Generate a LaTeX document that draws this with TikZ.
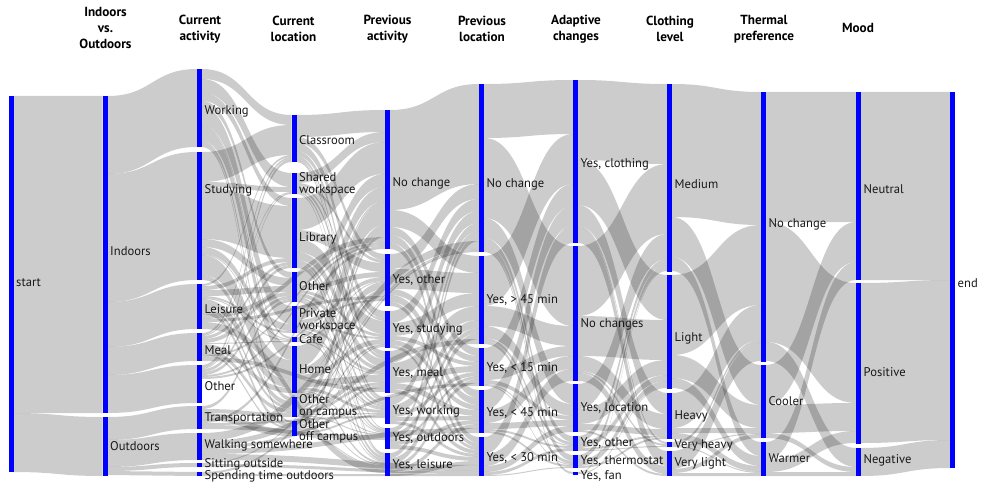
\documentclass[tikz,border=0pt]{standalone}
\usepackage{fontspec}
\setmainfont{PT Sans}
\usetikzlibrary{calc,backgrounds}

\tikzset{
  skbar/.style={fill=blue,draw=none,inner sep=0pt,outer sep=0pt,minimum width=5pt},
  lbl/.style={anchor=west,inner sep=0.5pt,align=left,text=black!90,font=\fontsize{12.6}{11.6}\selectfont},
  hd/.style={align=center,font=\bfseries\fontsize{13.2}{16}\selectfont},
  band/.style={fill=black,fill opacity=0.2}
}

% bar node: name, x, top, bottom, label y, label
\newcommand\sknode[6]{%
  \node[skbar,minimum height={#4-#3}] (#1) at (#2,{(#3+#4)/2}) {};
  \node[lbl] (#1l) at (#2+4.5,#5) {#6};
  \expandafter\xdef\csname so#1\endcsname{0}%
  \expandafter\xdef\csname si#1\endcsname{0}%
}
% band: from node, to node, value
\newcommand\skflow[3]{%
  \edef\oa{\csname so#1\endcsname}\edef\ob{\csname si#2\endcsname}%
  \coordinate (fa) at ($(#1.north east)+(0,\oa)$);
  \coordinate (fb) at ($(#2.north west)+(0,\ob)$);
  \coordinate (fc) at ($(fb)+(0,#3)$);
  \coordinate (fd) at ($(fa)+(0,#3)$);
  \coordinate (fm) at ($(fa)!0.5!(fb)$);
  \fill[band] (fa) .. controls (fm|-fa) and (fm|-fb) .. (fb) -- (fc)
    .. controls (fm|-fc) and (fm|-fd) .. (fd) -- cycle;
  \pgfmathsetmacro\tmp{\oa+#3}\expandafter\xdef\csname so#1\endcsname{\tmp}%
  \pgfmathsetmacro\tmp{\ob+#3}\expandafter\xdef\csname si#2\endcsname{\tmp}%
}

\begin{document}
\begin{tikzpicture}[x=1pt,y=-1pt]
\useasboundingbox (0,0) rectangle (988,484);
%HEADERS
\node[hd] (hIO) at (105.5,28) {Indoors\\vs.\\Outdoors};
\node[hd] (hAct) at (200,29) {Current\\activity};
\node[hd] (hLoc) at (293.5,29) {Current\\location};
\node[hd] (hPAct) at (387.5,29) {Previous\\activity};
\node[hd] (hPLoc) at (482,29) {Previous\\location};
\node[hd] (hAdap) at (576,29) {Adaptive\\changes};
\node[hd] (hClo) at (670,29) {Clothing\\level};
\node[hd] (hTher) at (764,29) {Thermal\\preference};
\node[hd] (hMood) at (858,28) {Mood};
%START AND INDOORS VS. OUTDOORS
\sknode{st}{11}{96}{472}{283}{start}
\sknode{ind}{105}{96}{413}{251}{Indoors}
\sknode{outd}{105}{417}{476}{446}{Outdoors}
%CURRENT ACTIVITY
\sknode{wrk}{199.5}{69}{147}{111}{Working}
\sknode{stu}{199.5}{152}{280}{190}{Studying}
\sknode{lei}{199.5}{284}{329}{309}{Leisure}
\sknode{meal}{199.5}{333}{361}{350}{Meal}
\sknode{oact}{199.5}{365}{403}{386}{Other}
\sknode{trn}{199.5}{406}{429}{418}{Transportation}
\sknode{walk}{199.5}{433}{460}{445}{Walking somewhere}
\sknode{sit}{199.5}{463}{467}{464}{Sitting outside}
\sknode{spend}{199.5}{472}{476}{476.5}{Spending time outdoors}
%CURRENT LOCATION
\sknode{cls}{294}{115}{162}{140}{Classroom}
\sknode{shw}{294}{173}{194}{184}{Shared\\workspace}
\sknode{lib}{294}{198}{268}{238}{Library}
\sknode{oloc}{294}{272}{302}{286}{Other}
\sknode{prv}{294}{306}{333}{320}{Private\\workspace}
\sknode{cafe}{294}{337}{342}{339.5}{Cafe}
\sknode{home}{294}{346}{393}{369}{Home}
\sknode{ooc}{294}{397}{417}{406}{Other\\on campus}
\sknode{ofc}{294}{421}{436}{431}{Other\\off campus}
%PREVIOUS ACTIVITY
\sknode{pnc}{387.5}{110}{249}{183}{No change}
\sknode{poth}{387.5}{254}{306}{280}{Yes, other}
\sknode{pstu}{387.5}{311}{348}{329}{Yes, studying}
\sknode{pmeal}{387.5}{351}{393}{373}{Yes, meal}
\sknode{pwrk}{387.5}{397}{424}{411}{Yes, working}
\sknode{pout}{387.5}{428}{449}{438}{Yes, outdoors}
\sknode{plei}{387.5}{453}{476}{465}{Yes, leisure}
%PREVIOUS LOCATION
\sknode{lnc}{481.5}{84}{252}{184}{No change}
\sknode{lg45}{481.5}{256}{344}{300}{Yes, > 45 min}
\sknode{ll15}{481.5}{348}{386}{368}{Yes, < 15 min}
\sknode{ll45}{481.5}{390}{433}{413}{Yes, < 45 min}
\sknode{ll30}{481.5}{437}{476}{458}{Yes, < 30 min}
%ADAPTIVE CHANGES
\sknode{aclo}{575.5}{80}{243}{164}{Yes, clothing}
\sknode{anc}{575.5}{246}{381}{324}{No changes}
\sknode{aloc}{575.5}{384}{432}{408}{Yes, location}
\sknode{aoth}{575.5}{436}{451}{443}{Yes, other}
\sknode{athe}{575.5}{455}{468}{461.5}{Yes, thermostat}
\sknode{afan}{575.5}{472}{475}{475.5}{Yes, fan}
%CLOTHING LEVEL
\sknode{cmed}{669.5}{84}{272}{184}{Medium}
\sknode{clig}{669.5}{275}{389}{338}{Light}
\sknode{chea}{669.5}{393}{439}{416}{Heavy}
\sknode{cvh}{669.5}{442}{447}{445}{Very heavy}
\sknode{cvl}{669.5}{451}{476}{463}{Very light}
%THERMAL PREFERENCE
\sknode{tnc}{763.5}{92}{362}{224}{No change}
\sknode{tcoo}{763.5}{365}{438}{401}{Cooler}
\sknode{twar}{763.5}{442}{476}{458}{Warmer}
%MOOD AND END
\sknode{mneu}{858.5}{92}{280}{189}{Neutral}
\sknode{mpos}{858.5}{283}{444}{372}{Positive}
\sknode{mneg}{858.5}{448}{476}{460}{Negative}
\sknode{en}{952.5}{92}{468}{283}{end}
%FLOWS
\begin{scope}[on background layer]
\foreach \s/\d/\v in {st/ind/317, st/outd/59,
  ind/wrk/78, ind/stu/128, ind/lei/45, ind/meal/28, ind/oact/38,
  outd/trn/23, outd/walk/27, outd/sit/4, outd/spend/4,
  wrk/cls/10, wrk/shw/14, wrk/lib/8, wrk/oloc/6, wrk/prv/18, wrk/cafe/2, wrk/home/14, wrk/ooc/4, wrk/ofc/2,
  stu/cls/30, stu/shw/5, stu/lib/52, stu/oloc/8, stu/prv/7, stu/cafe/1, stu/home/20, stu/ooc/5,
  lei/cls/2, lei/lib/4, lei/oloc/6, lei/prv/2, lei/cafe/1, lei/home/8, lei/ooc/3, lei/ofc/4,
  meal/cls/2, meal/shw/1, meal/lib/3, meal/oloc/4, meal/cafe/1, meal/home/5, meal/ooc/4, meal/ofc/2,
  oact/cls/3, oact/shw/1, oact/lib/3, oact/oloc/3,
  trn/oloc/3, trn/ooc/4, trn/ofc/7}
  {\skflow{\s}{\d}{\v}}
%LOCATION TO PREVIOUS ACTIVITY
\foreach \s/\d/\v in {cls/pnc/22, cls/poth/6, cls/pstu/8, cls/pmeal/5, cls/pwrk/3, cls/pout/1, cls/plei/2,
  shw/pnc/10, shw/poth/3, shw/pstu/2, shw/pmeal/3, shw/pwrk/2, shw/plei/1,
  lib/pnc/32, lib/poth/9, lib/pstu/13, lib/pmeal/8, lib/pwrk/3, lib/pout/2, lib/plei/3,
  oloc/pnc/13, oloc/poth/5, oloc/pstu/3, oloc/pmeal/4, oloc/pwrk/2, oloc/pout/1, oloc/plei/2,
  prv/pnc/14, prv/poth/4, prv/pstu/2, prv/pmeal/3, prv/pwrk/2, prv/pout/1, prv/plei/1,
  cafe/pnc/2, cafe/poth/1, cafe/pmeal/1, cafe/pwrk/1,
  home/pnc/22, home/poth/7, home/pstu/5, home/pmeal/7, home/pwrk/3, home/pout/1, home/plei/2,
  ooc/pnc/8, ooc/poth/4, ooc/pstu/2, ooc/pmeal/3, ooc/pwrk/1, ooc/pout/1, ooc/plei/1,
  ofc/pnc/4, ofc/poth/3, ofc/pstu/1, ofc/pmeal/3, ofc/pwrk/2, ofc/pout/1, ofc/plei/1,
  lei/pnc/5, lei/poth/3, lei/plei/7, meal/pnc/2, meal/pmeal/4,
  oact/pnc/2, oact/poth/2, trn/pnc/3, trn/pwrk/2, trn/pout/4}
  {\skflow{\s}{\d}{\v}}
%PREVIOUS ACTIVITY TO PREVIOUS LOCATION
\foreach \s/\d/\v in {pnc/lnc/100, pnc/lg45/17, pnc/ll15/8, pnc/ll45/8, pnc/ll30/6,
  poth/lnc/15, poth/lg45/20, poth/ll15/6, poth/ll45/7, poth/ll30/4,
  pstu/lnc/12, pstu/lg45/13, pstu/ll15/4, pstu/ll45/5, pstu/ll30/3,
  pmeal/lnc/12, pmeal/lg45/14, pmeal/ll15/6, pmeal/ll45/6, pmeal/ll30/4,
  pwrk/lnc/8, pwrk/lg45/8, pwrk/ll15/4, pwrk/ll45/4, pwrk/ll30/3,
  pout/lnc/5, pout/lg45/5, pout/ll15/3, pout/ll45/4, pout/ll30/4,
  plei/lnc/5, plei/lg45/6, plei/ll15/4, plei/ll45/4, plei/ll30/4,
  walk/lnc/8, walk/lg45/5, walk/ll15/3, walk/ll45/5, walk/ll30/6,
  sit/lnc/1, sit/ll30/3, spend/lnc/2, spend/ll30/2}
  {\skflow{\s}{\d}{\v}}
%PREVIOUS LOCATION TO ADAPTIVE CHANGES
\foreach \s/\d/\v in {lnc/aclo/54, lnc/anc/80, lnc/aloc/20, lnc/aoth/6, lnc/athe/6, lnc/afan/2,
  lg45/aclo/50, lg45/anc/20, lg45/aloc/12, lg45/aoth/3, lg45/athe/3,
  ll15/aclo/22, ll15/anc/10, ll15/aloc/4, ll15/aoth/1, ll15/athe/1,
  ll45/aclo/20, ll45/anc/13, ll45/aloc/6, ll45/aoth/2, ll45/athe/2,
  ll30/aclo/17, ll30/anc/12, ll30/aloc/6, ll30/aoth/3, ll30/athe/1}
  {\skflow{\s}{\d}{\v}}
%ADAPTIVE CHANGES TO CLOTHING
\foreach \s/\d/\v in {aclo/cmed/80, aclo/clig/45, aclo/chea/21, aclo/cvh/2, aclo/cvl/15,
  anc/cmed/70, anc/clig/40, anc/chea/15, anc/cvh/2, anc/cvl/8,
  aloc/cmed/25, aloc/clig/15, aloc/chea/6, aloc/cvl/2,
  aoth/cmed/6, aoth/clig/6, aoth/chea/2, aoth/cvh/1,
  athe/cmed/5, athe/clig/6, athe/chea/2,
  afan/cmed/1, afan/clig/1}
  {\skflow{\s}{\d}{\v}}
%CLOTHING TO THERMAL PREFERENCE TO MOOD TO END
\foreach \s/\d/\v in {cmed/tnc/133, cmed/tcoo/40, cmed/twar/14,
  clig/tnc/80, clig/tcoo/23, clig/twar/10,
  chea/tnc/35, chea/tcoo/5, chea/twar/6,
  cvh/tnc/3, cvh/tcoo/1, cvh/twar/1,
  cvl/tnc/18, cvl/tcoo/4, cvl/twar/3,
  tnc/mneu/130, tnc/mpos/120, tnc/mneg/19,
  tcoo/mneu/40, tcoo/mpos/28, tcoo/mneg/5,
  twar/mneu/18, twar/mpos/12, twar/mneg/4,
  mneu/en/188, mpos/en/160, mneg/en/28}
  {\skflow{\s}{\d}{\v}}
\end{scope}
\end{tikzpicture}
\end{document}
